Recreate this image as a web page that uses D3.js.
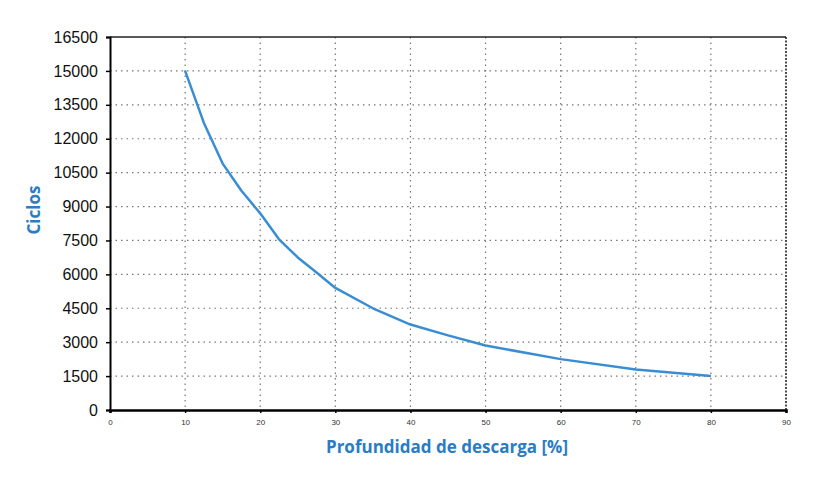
<!DOCTYPE html>
<html>
<head>
<meta charset="utf-8">
<script src="https://cdn.jsdelivr.net/npm/d3@7"></script>
<style>
  body { margin: 0; background: #fff; }
  .ytick text { font-family: "Liberation Sans", Arial, sans-serif; font-size: 16px; fill: #111; }
  .xtick text { font-family: "Liberation Sans", Arial, sans-serif; font-size: 8px; fill: #333; }
  .title { font-family: "Open Sans", sans-serif; font-weight: bold; font-size: 17px; fill: #2a7cc4; }
</style>
</head>
<body>
<svg width="834" height="484"></svg>
<script>
// depth of discharge (%) and cycles
var depth = [10, 12.5, 15, 17.5, 20, 22.5, 25, 27.5, 30, 35, 40, 45, 50, 60, 70, 80];
var cycles = [15000, 12700, 10900, 9700, 8700, 7550, 6750, 6080, 5400, 4500, 3780, 3300, 2850, 2250, 1790, 1500];

var xTicks = [0, 10, 20, 30, 40, 50, 60, 70, 80, 90];
var yTicks = [0, 1500, 3000, 4500, 6000, 7500, 9000, 10500, 12000, 13500, 15000, 16500];

var svg = d3.select('svg');
var padding = {t: 37, r: 48, b: 74, l: 110};
var chartWidth = 834 - padding.l - padding.r;
var chartHeight = 484 - padding.t - padding.b;

var chartG = svg.append('g')
    .attr('transform', 'translate(' + [padding.l, padding.t] + ')');

var xScale = d3.scaleLinear().domain([0, 90]).range([0, chartWidth]);
var yScale = d3.scaleLinear().domain([0, 16500]).range([chartHeight, 0]);

// dotted grid
chartG.selectAll('.vgrid')
    .data(xTicks.slice(1, -1))
    .enter().append('line')
    .attr('x1', function(d) { return xScale(d); })
    .attr('x2', function(d) { return xScale(d); })
    .attr('y1', 0).attr('y2', chartHeight)
    .attr('stroke', '#777').attr('stroke-width', 1.2)
    .attr('stroke-dasharray', '1.5,4');

chartG.selectAll('.hgrid')
    .data(yTicks.slice(1, -1))
    .enter().append('line')
    .attr('y1', function(d) { return yScale(d); })
    .attr('y2', function(d) { return yScale(d); })
    .attr('x1', 0).attr('x2', chartWidth)
    .attr('stroke', '#777').attr('stroke-width', 1.2)
    .attr('stroke-dasharray', '1.5,4');

// top and right frame
chartG.append('line')
    .attr('x1', 0).attr('x2', chartWidth).attr('y1', 0).attr('y2', 0)
    .attr('stroke', '#222').attr('stroke-width', 1.3);
chartG.append('line')
    .attr('x1', chartWidth).attr('x2', chartWidth).attr('y1', 0).attr('y2', chartHeight)
    .attr('stroke', '#222').attr('stroke-width', 1.6)
    .attr('stroke-dasharray', '2,1.5');

// curve
var points = depth.map(function(d, i) { return [d, cycles[i]]; });
var line = d3.line()
    .x(function(d) { return xScale(d[0]); })
    .y(function(d) { return yScale(d[1]); });
chartG.append('path')
    .datum(points)
    .attr('d', line)
    .attr('fill', 'none')
    .attr('stroke', '#3a8dd3')
    .attr('stroke-width', 2.5)
    .attr('stroke-linejoin', 'round');

// axes
var yAxis = d3.axisLeft(yScale).tickValues(yTicks).tickFormat(d3.format('d'))
    .tickSize(4).tickPadding(8);
var yG = chartG.append('g').attr('class', 'ytick').call(yAxis);
yG.select('.domain').attr('stroke', '#000').attr('stroke-width', 2);
yG.selectAll('.tick line').attr('stroke', '#000').attr('stroke-width', 1.5);

var xAxis = d3.axisBottom(xScale).tickValues(xTicks).tickSize(3).tickPadding(6);
var xG = chartG.append('g').attr('class', 'xtick')
    .attr('transform', 'translate(0,' + chartHeight + ')')
    .call(xAxis);
xG.select('.domain').attr('stroke', '#000').attr('stroke-width', 2.5);
xG.selectAll('.tick line').attr('stroke', '#000').attr('stroke-width', 1.5);

// titles
svg.append('text')
    .attr('class', 'title')
    .attr('text-anchor', 'middle')
    .attr('transform', 'translate(40,210) rotate(-90)')
    .text('Ciclos');

svg.append('text')
    .attr('class', 'title')
    .attr('text-anchor', 'middle')
    .attr('x', 447).attr('y', 453)
    .text('Profundidad de descarga [%]');
</script>
</body>
</html>
